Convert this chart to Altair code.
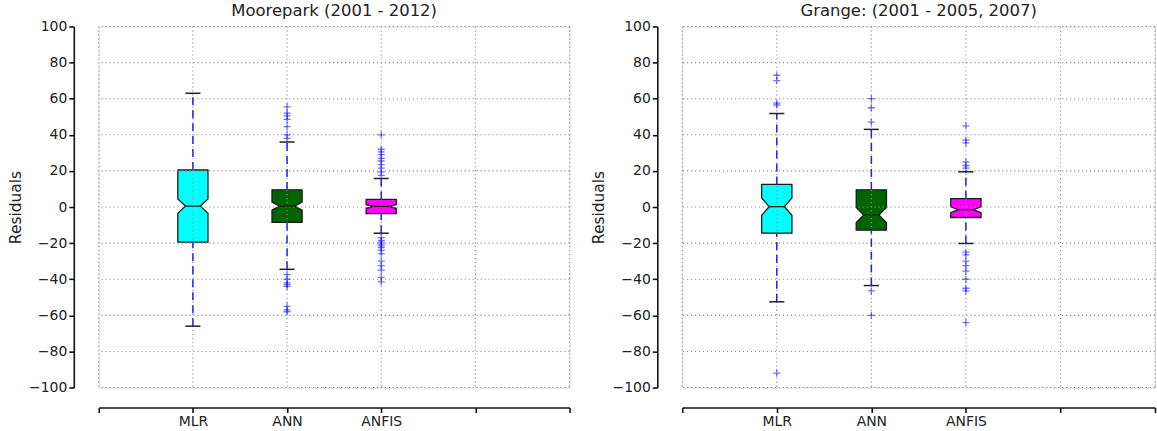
import altair as alt
import pandas as pd

categories = ["MLR", "ANN", "ANFIS"]
box_colors = ["#00FFFF", "#006400", "#FF00FF"]
x_ticks = [0, 1, 2, 3, 4, 5]
y_ticks = [-100, -80, -60, -40, -20, 0, 20, 40, 60, 80, 100]

# Moorepark (2001 - 2012)
m_q1 = [-19.5, -8.5, -3.7]
m_med = [0.5, 0.5, 0.3]
m_q3 = [20.5, 9.5, 4.2]
m_lo = [-66.0, -34.5, -14.5]
m_hi = [63.0, 36.0, 15.8]
m_notch = [4.0, 2.2, 1.0]
m_out_mlr = []
m_out_ann = [55.5, 52.0, 50.5, 48.5, 44.5, 40.0, 38.0,
             -37.5, -40.0, -42.0, -43.0, -44.0, -55.0, -57.0, -58.0]
m_out_anfis = [40.0, 32.0, 30.5, 29.0, 27.0, 25.5, 23.5, 21.5, 19.5, 17.5,
               -17.0, -18.5, -19.5, -20.5, -21.5, -22.5, -24.0, -26.0, -30.0,
               -32.5, -35.0, -39.0, -41.5]

# Grange: (2001 - 2005, 2007)
g_q1 = [-14.5, -12.8, -5.8]
g_med = [0.2, -4.4, -1.5]
g_q3 = [12.5, 9.5, 4.6]
g_lo = [-52.5, -43.5, -20.2]
g_hi = [51.8, 43.0, 19.5]
g_notch = [4.8, 4.2, 1.6]
g_out_mlr = [73.0, 70.0, 57.5, 56.5, -92.0]
g_out_ann = [60.0, 55.0, 47.0, -46.5, -60.0]
g_out_anfis = [45.0, 37.0, 35.5, 25.0, 23.0, 21.5,
               -25.0, -26.5, -30.0, -32.5, -35.5, -40.0, -45.0, -46.5, -64.0]

BOX_W = 0.32
CAP_W = 0.16
FONT = "DejaVu Sans"

xscale = alt.Scale(domain=[0, 5], nice=False, zero=False)
yscale = alt.Scale(domain=[-100, 100], nice=False, zero=False)
color_scale = alt.Scale(domain=categories, range=box_colors)

label_expr = " : ".join(
    f"datum.value == {i + 1} ? '{c}'" for i, c in enumerate(categories)
) + " : ''"

xaxis = alt.Axis(values=x_ticks, labelExpr=label_expr, title=None, grid=False,
                 offset=20, domainColor="#111111", tickColor="#111111",
                 tickSize=5, domainWidth=1.6, tickWidth=1.6, labelFontSize=14,
                 labelColor="#222222", labelPadding=2, labelFont=FONT)
yaxis = alt.Axis(values=y_ticks, title="Residuals", grid=False, offset=25,
                 domainColor="#111111", tickColor="#111111", tickSize=5,
                 domainWidth=1.6, tickWidth=1.6, labelFontSize=14,
                 labelColor="#222222", labelFont=FONT, titleFont=FONT,
                 titleFontSize=15.5, titleFontWeight="normal",
                 titleColor="#222222", titlePadding=5, format="d",
                 labelPadding=2)


def X(field):
    return alt.X(field, type="quantitative", scale=xscale, axis=xaxis)


def Y(field):
    return alt.Y(field, type="quantitative", scale=yscale, axis=yaxis)


def panel(title, q1, med, q3, lo, hi, notch, outs, width):
    positions = [i + 1 for i in range(len(categories))]
    poly_rows = []
    stat_rows = []
    out_rows = []
    for i, cat in enumerate(categories):
        c = positions[i]
        full = (c - BOX_W / 2, c + BOX_W / 2)
        pinch = (c - BOX_W / 4, c + BOX_W / 4)
        for yv, (xl, xr) in [(q1[i], full), (med[i] - notch[i], full),
                             (med[i], pinch), (med[i] + notch[i], full),
                             (q3[i], full)]:
            poly_rows.append({"model": cat, "y": yv, "xl": xl, "xr": xr})
        stat_rows.append({"model": cat, "pos": c, "q1": q1[i], "med": med[i],
                          "q3": q3[i], "lo": lo[i], "hi": hi[i],
                          "cl": c - CAP_W / 2, "cr": c + CAP_W / 2,
                          "ml": pinch[0], "mr": pinch[1]})
        for v in outs[i]:
            out_rows.append({"model": cat, "pos": c, "value": v})
    poly = pd.DataFrame(poly_rows)
    stats = pd.DataFrame(stat_rows)
    outliers = pd.DataFrame(out_rows, columns=["model", "pos", "value"])
    hgrid = pd.DataFrame({"v": y_ticks})
    vgrid = pd.DataFrame({"v": x_ticks})

    boxes = alt.Chart(poly).mark_area(
        orient="horizontal", stroke="#1a1a1a", strokeWidth=1.3,
        interpolate="linear", opacity=1
    ).encode(
        y=Y("y"), x=X("xl"), x2="xr",
        color=alt.Color("model:N", scale=color_scale, legend=None),
    )
    grid_h = alt.Chart(hgrid).mark_rule(
        color="#8f8f8f", strokeDash=[1.2, 2.8], strokeWidth=1.1
    ).encode(y=Y("v"))
    grid_v = alt.Chart(vgrid).mark_rule(
        color="#8f8f8f", strokeDash=[1.2, 2.8], strokeWidth=1.1
    ).encode(x=X("v"))
    median = alt.Chart(stats).mark_rule(color="#1a1a1a", strokeWidth=1.2).encode(
        x=X("ml"), x2="mr", y=Y("med"))
    wh_lo = alt.Chart(stats).mark_rule(
        color="#1f1fff", strokeDash=[8, 5], strokeWidth=1.5
    ).encode(x=X("pos"), y=Y("lo"), y2="q1")
    wh_hi = alt.Chart(stats).mark_rule(
        color="#1f1fff", strokeDash=[8, 5], strokeWidth=1.5
    ).encode(x=X("pos"), y=Y("q3"), y2="hi")
    cap_lo = alt.Chart(stats).mark_rule(color="#222222", strokeWidth=1.5).encode(
        x=X("cl"), x2="cr", y=Y("lo"))
    cap_hi = alt.Chart(stats).mark_rule(color="#222222", strokeWidth=1.5).encode(
        x=X("cl"), x2="cr", y=Y("hi"))
    pts = alt.Chart(outliers).mark_point(
        shape="M-1,0L1,0M0,-1L0,1", filled=False, color="#0000FF",
        strokeWidth=1.3, size=50, opacity=0.55
    ).encode(x=X("pos"), y=Y("value"))

    return alt.layer(
        boxes, grid_h, grid_v, median, wh_lo, wh_hi, cap_lo, cap_hi, pts
    ).properties(
        width=width, height=362,
        title=alt.TitleParams(title, fontSize=16.5, fontWeight="normal",
                              font=FONT, color="#222222", offset=0),
    )


left = panel("Moorepark (2001 - 2012)", m_q1, m_med, m_q3, m_lo, m_hi, m_notch,
             [m_out_mlr, m_out_ann, m_out_anfis], 472)
right = panel("Grange: (2001 - 2005, 2007)", g_q1, g_med, g_q3, g_lo, g_hi,
              g_notch, [g_out_mlr, g_out_ann, g_out_anfis], 474)

chart = alt.hconcat(left, right, spacing=20).properties(
    padding={"left": 8, "top": 2, "right": 0, "bottom": 0}
).configure_view(stroke=None).configure(font=FONT, background="white")

chart.save("out.html", embed_options={"renderer": "svg", "actions": False})
